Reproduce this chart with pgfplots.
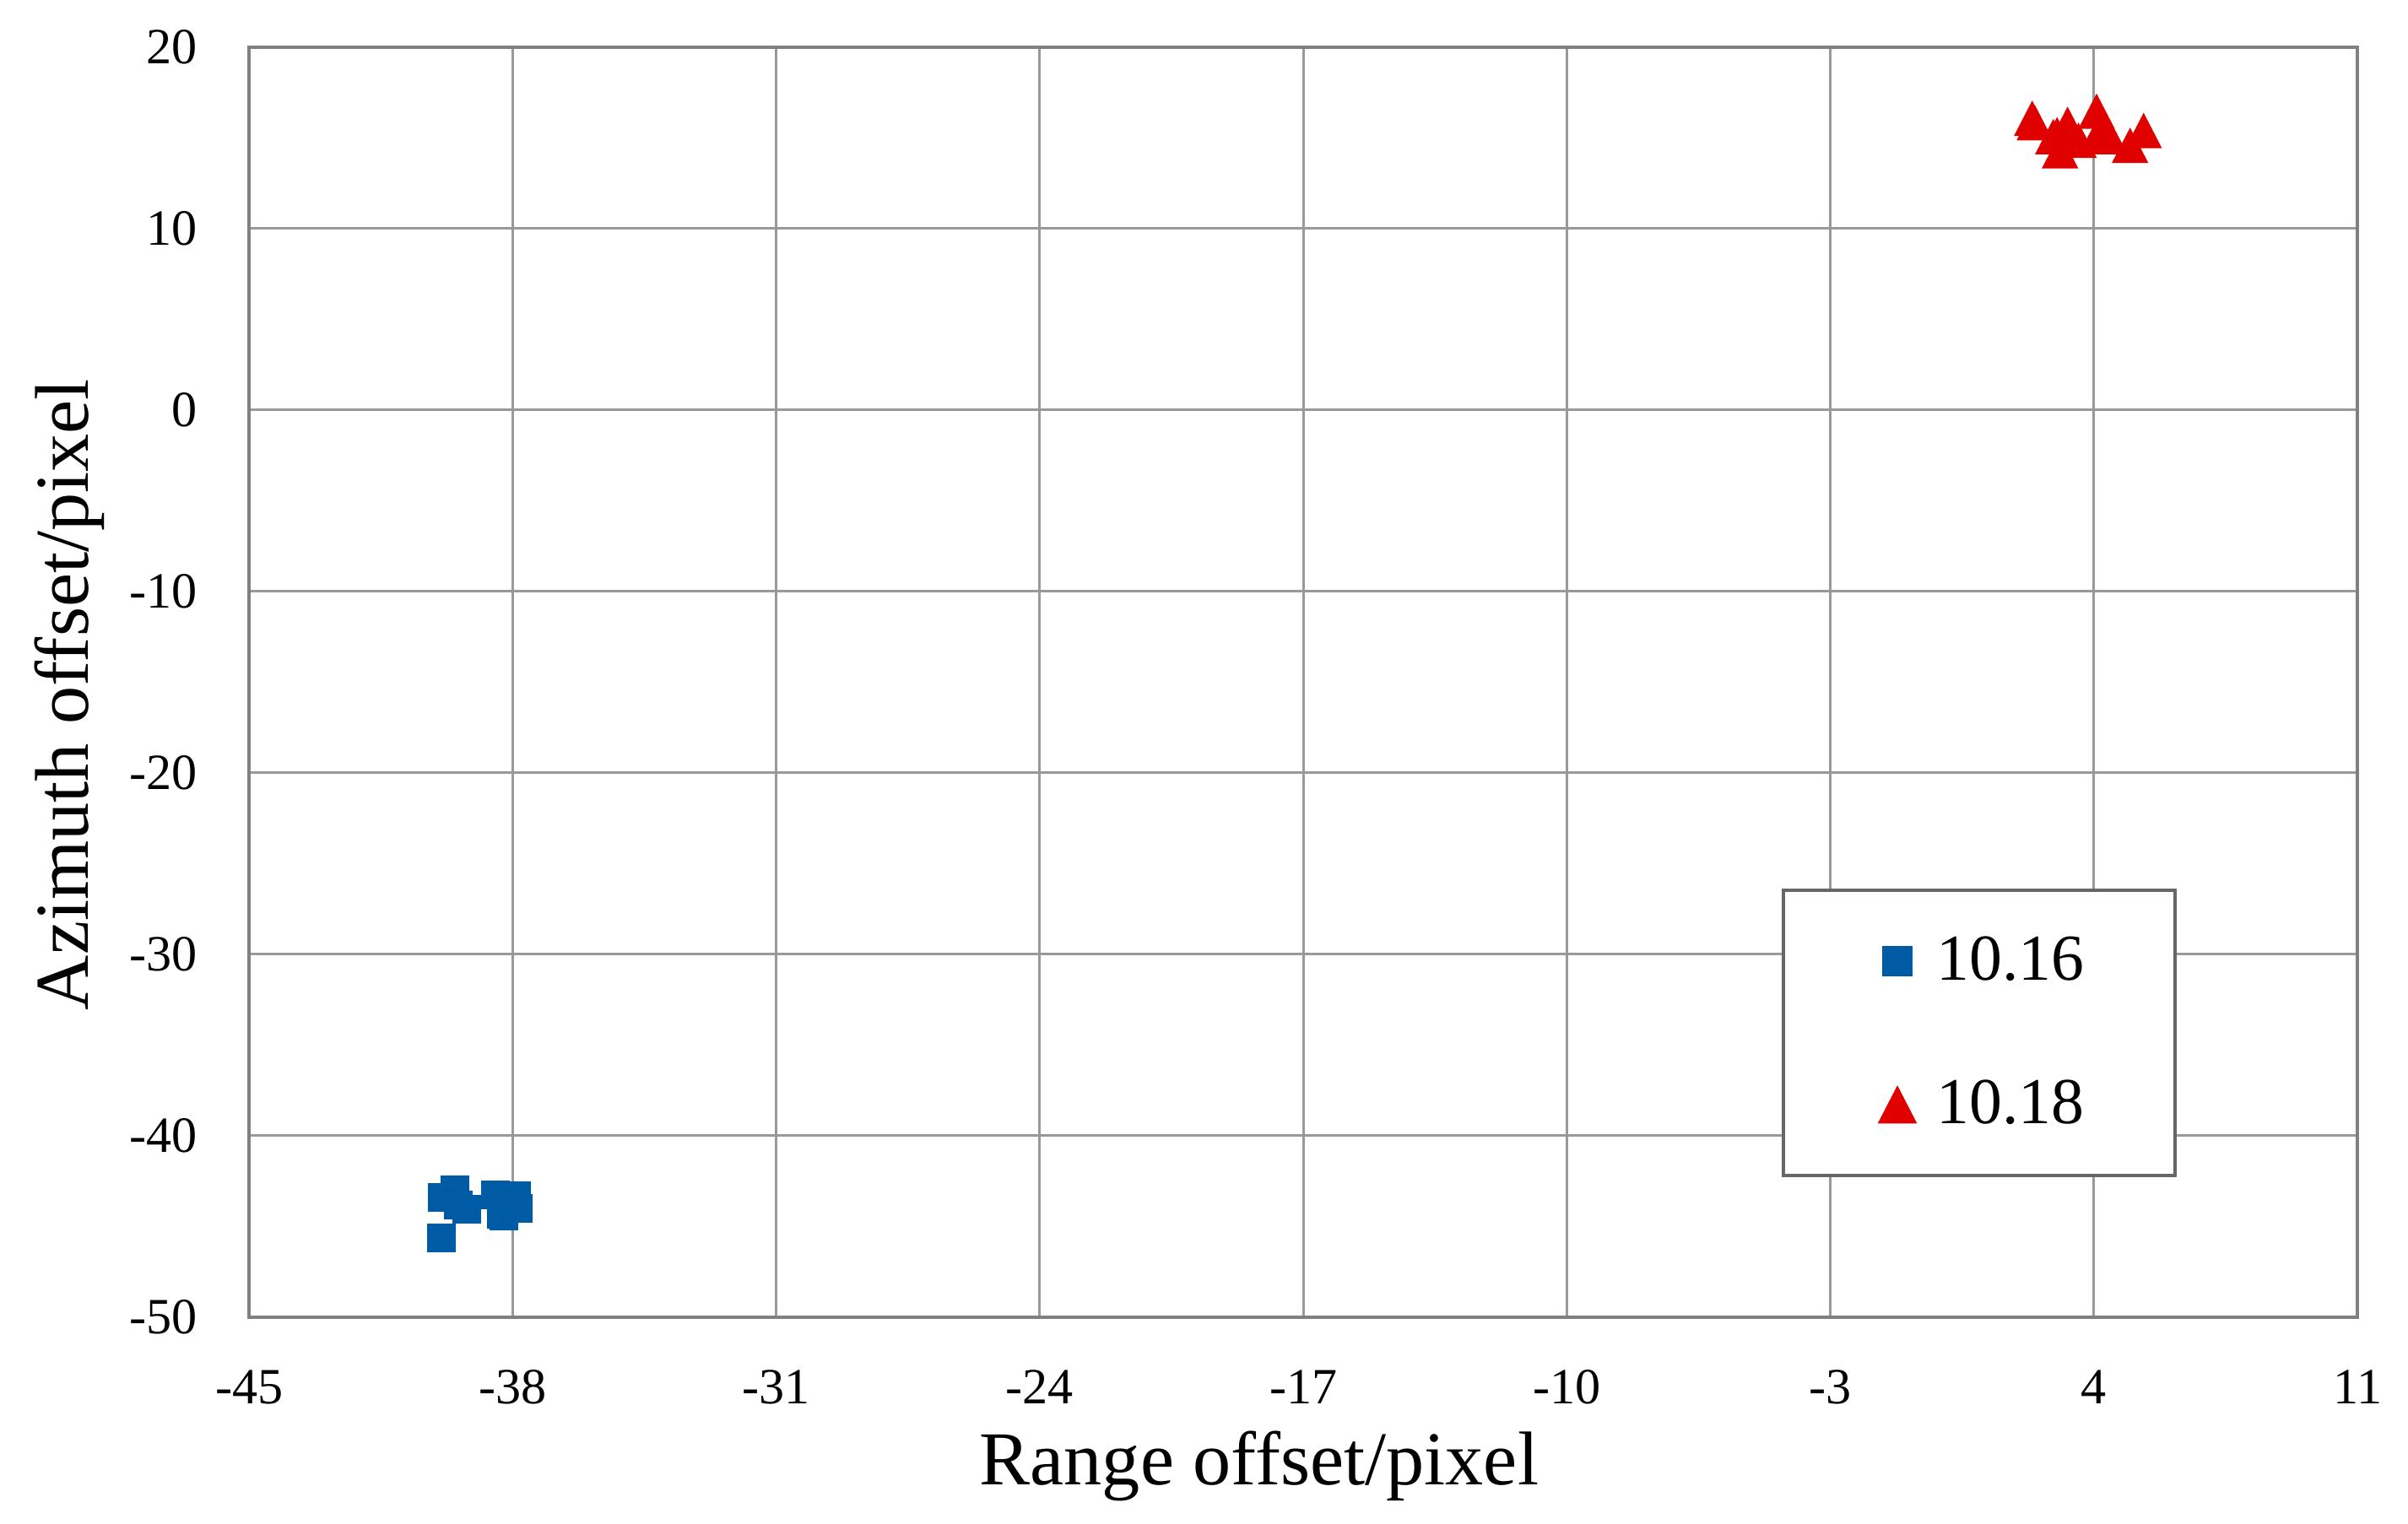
\documentclass[border=0pt]{standalone}
\usepackage{fontspec}
\setmainfont{Liberation Serif}
\usepackage{pgfplots}
\pgfplotsset{compat=1.18}
\definecolor{myblue}{RGB}{0,91,165}
\definecolor{myred}{RGB}{224,0,0}
\begin{document}
\begin{tikzpicture}
\begin{axis}[
 name=ax,
 scale only axis,
 width=17.51cm, height=10.55cm,
 xmin=-45, xmax=11, ymin=-50, ymax=20,
 xtick={-45,-38,...,11}, ytick={-50,-40,...,20},
 grid=major,
 major grid style={black!40, line width=0.6pt},
 axis line style={black!50, line width=0.8pt},
 major tick length=0pt,
 tick style={draw=none},
 /pgf/number format/assume math mode=true,
 ticklabel style={font=\fontsize{12}{14}\selectfont},
 xticklabel style={yshift=-0.32cm},
 yticklabel style={xshift=-0.31cm},
 xlabel={Range offset/pixel}, ylabel={Azimuth offset/pixel},
 label style={font=\fontsize{18}{21}\selectfont},
 xlabel style={at={(axis description cs:0.479,-0.1176)}, anchor=center},
 ylabel style={at={(axis description cs:-0.0853,0.49)}, anchor=center},
 legend style={at={(axis description cs:0.727,0.337)}, anchor=north west,
   draw=black!60, line width=0.8pt, font=\fontsize{15.5}{18}\selectfont,
   inner xsep=0.685cm, inner ysep=0.31cm, row sep=0.635cm,
   /tikz/every odd column/.append style={column sep=0.09cm}},
 legend cell align=left,
 legend image code/.code={\path[draw=none,fill=none] (-0.26cm,0cm) rectangle (0.166cm,0.01cm);
   \draw[#1] plot coordinates {(0cm,0cm)};},
]
\addplot[only marks, mark=square*, mark size=3.2pt, color=myblue, mark options={fill=myblue, draw=myblue}] coordinates {
(-39.90,-45.63) (-39.88,-43.41) (-39.53,-42.98) (-39.44,-43.84) (-39.22,-44.05)
(-38.45,-43.28) (-37.89,-43.32) (-37.86,-44.01) (-38.30,-44.34) (-38.23,-44.42)
};
\addlegendentry{10.16}
\addplot[only marks, mark=triangle*, mark size=4.6pt, color=myred, mark options={fill=myred, draw=myred, yscale=1.12, yshift=-1.3pt}] coordinates {
(2.36,16.08) (2.43,15.84) (2.92,15.07) (3.02,15.18) (3.30,15.75) (3.10,14.29)
(3.59,14.87) (4.07,16.47) (4.41,15.07) (4.96,14.59) (5.32,15.41) (4.11,15.18)
};
\addlegendentry{10.18}
\end{axis}
\path ([shift={(-2.07cm,-1.72cm)}]ax.south west) rectangle ([shift={(0.42cm,0.39cm)}]ax.north east);
\end{tikzpicture}
\end{document}
